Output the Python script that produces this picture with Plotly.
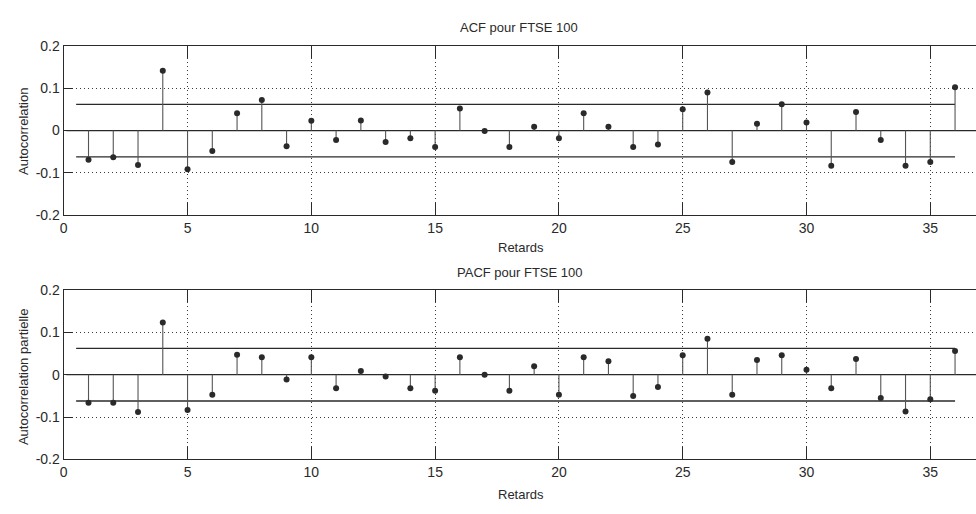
import plotly.graph_objects as go

lags = list(range(1, 37))
acf_vals = [-0.069, -0.063, -0.081, 0.141, -0.091, -0.048, 0.041, 0.072, -0.037, 0.023,
            -0.022, 0.024, -0.027, -0.018, -0.039, 0.052, -0.001, -0.039, 0.009, -0.018,
            0.041, 0.009, -0.039, -0.033, 0.050, 0.090, -0.074, 0.016, 0.062, 0.019,
            -0.083, 0.044, -0.022, -0.083, -0.074, 0.102]
pacf_vals = [-0.066, -0.066, -0.088, 0.123, -0.083, -0.047, 0.047, 0.041, -0.011, 0.041,
             -0.032, 0.009, -0.004, -0.032, -0.038, 0.041, 0.000, -0.038, 0.020, -0.047,
             0.041, 0.032, -0.050, -0.029, 0.046, 0.085, -0.047, 0.035, 0.046, 0.012,
             -0.032, 0.037, -0.055, -0.087, -0.058, 0.056]
conf_bound = 0.062
bound_x = [0.5, 36]
x_ticks = [0, 5, 10, 15, 20, 25, 30, 35]
y_ticks = [-0.2, -0.1, 0, 0.1, 0.2]
y_tick_labels = ["-0.2", "-0.1", "0", "0.1", "0.2"]
titles = ["ACF pour FTSE 100", "PACF pour FTSE 100"]
ylabels = ["Autocorrelation", "Autocorrelation partielle"]
xlabel = "Retards"

W, H = 976, 514
INK = "#2a2a2a"
FONT = "Liberation Sans, Arial, sans-serif"

def px(x):
    return x / W

def py(y):
    return 1 - y / H

fig = go.Figure()

panels = [
    (acf_vals, "x", "y", (39, 214)),
    (pacf_vals, "x2", "y2", (291, 466)),
]

for vals, xa, ya, _ in panels:
    # zero line
    fig.add_trace(go.Scatter(x=[0.1, 40], y=[0, 0], mode="lines",
                             line=dict(color=INK, width=1.3), xaxis=xa, yaxis=ya,
                             showlegend=False, hoverinfo="skip"))
    # confidence bounds
    for s in (1, -1):
        fig.add_trace(go.Scatter(x=bound_x, y=[s * conf_bound] * 2, mode="lines",
                                 line=dict(color=INK, width=1.3), xaxis=xa, yaxis=ya,
                                 showlegend=False, hoverinfo="skip"))
    # stems
    sx, sy = [], []
    for k, v in zip(lags, vals):
        sx += [k, k, None]
        sy += [0, v, None]
    fig.add_trace(go.Scatter(x=sx, y=sy, mode="lines",
                             line=dict(color="#555555", width=1.1), xaxis=xa, yaxis=ya,
                             showlegend=False, hoverinfo="skip"))
    fig.add_trace(go.Scatter(x=lags, y=vals, mode="markers",
                             marker=dict(color=INK, size=6), xaxis=xa, yaxis=ya,
                             showlegend=False))

x_right = (W - 60) / 24.86

axis_common = dict(
    showline=True, linecolor=INK, linewidth=1.3,
    ticks="inside", tickcolor=INK, tickwidth=1.3,
    showgrid=True, gridcolor="#3a3a3a", griddash="1px,3px", gridwidth=1.2,
    zeroline=False,
    tickfont=dict(family=FONT, size=14, color=INK),
)

layout = dict(
    width=W, height=H,
    margin=dict(l=0, r=0, t=0, b=0),
    paper_bgcolor="white", plot_bgcolor="white",
    showlegend=False,
)

for i, (vals, xa, ya, (top, bot)) in enumerate(panels):
    xname = "xaxis" if i == 0 else "xaxis2"
    yname = "yaxis" if i == 0 else "yaxis2"
    layout[xname] = dict(axis_common, domain=[px(60), 1], range=[0, x_right],
                         tickvals=x_ticks, ticklen=12, mirror="ticks",
                         anchor=ya)
    layout[yname] = dict(axis_common, domain=[py(bot), py(top)], range=[-0.2, 0.2],
                         tickvals=y_ticks, ticktext=y_tick_labels, ticklen=9,
                         mirror=False, anchor=xa)

fig.update_layout(**layout)

ann = []
ann.append(dict(text=titles[0], x=px(517), y=py(20)))
ann.append(dict(text=xlabel, x=px(519), y=py(247)))
ann.append(dict(text=titles[1], x=px(518), y=py(273)))
ann.append(dict(text=xlabel, x=px(519), y=py(502)))
for a in ann:
    a.update(xref="paper", yref="paper", showarrow=False, xanchor="center", yanchor="middle",
             font=dict(family=FONT, size=13, color=INK))
ann.append(dict(text=ylabels[0], x=px(19), y=py(127), xref="paper", yref="paper",
                showarrow=False, textangle=-90, xanchor="center", yanchor="middle",
                font=dict(family=FONT, size=13, color=INK)))
ann.append(dict(text=ylabels[1], x=px(19), y=py(380), xref="paper", yref="paper",
                showarrow=False, textangle=-90, xanchor="center", yanchor="middle",
                font=dict(family=FONT, size=13, color=INK)))
fig.update_layout(annotations=ann)

fig.write_html("out.html")
